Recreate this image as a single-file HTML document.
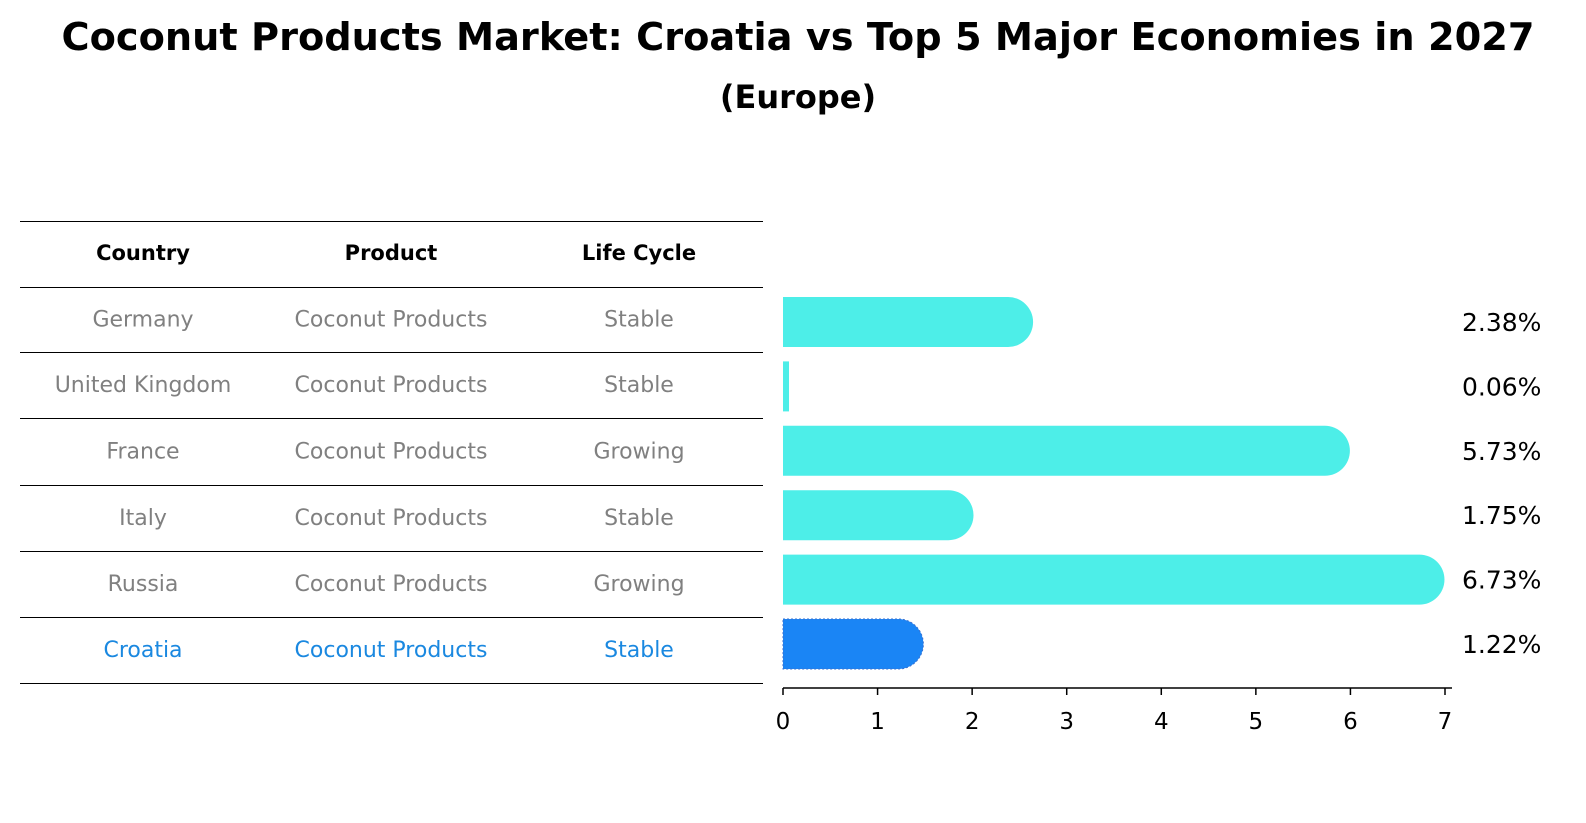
<!DOCTYPE html>
<html><head><meta charset="utf-8"><style>
html,body{margin:0;padding:0;background:#fff;overflow:hidden;width:1586px;height:823px;}
svg{display:block;}
svg text{font-family:"DejaVu Sans","Liberation Sans",sans-serif;}
</style></head><body>
<svg id="c" width="1586" height="823" viewBox="0 0 1586 823" xmlns="http://www.w3.org/2000/svg">
<rect width="1586" height="823" fill="#fff"/>
<text x="798" y="50" text-anchor="middle" font-size="38" font-weight="bold" textLength="1473" lengthAdjust="spacingAndGlyphs">Coconut Products Market: Croatia vs Top 5 Major Economies in 2027</text>
<text x="798" y="108" text-anchor="middle" font-size="32" font-weight="bold">(Europe)</text>
<g id="tbl"></g>
<g id="bars"></g>
</svg>
<script>
const countries=["Germany","United Kingdom","France","Italy","Russia","Croatia"];
const products=["Coconut Products","Coconut Products","Coconut Products","Coconut Products","Coconut Products","Coconut Products"];
const lifeCycles=["Stable","Stable","Growing","Stable","Growing","Stable"];
const values=[2.38,0.06,5.73,1.75,6.73,1.22];
const ticks=[0,1,2,3,4,5,6,7];
const NS="http://www.w3.org/2000/svg";
function mk(t,a,p){const e=document.createElementNS(NS,t);for(const k in a)e.setAttribute(k,a[k]);p.appendChild(e);return e;}
const tbl=document.getElementById('tbl'),bars=document.getElementById('bars');
const lineYs=[221,287,352,418,485,551,617,683];
lineYs.forEach(y=>{const l=mk('line',{x1:20,x2:763,y1:y+0.5,y2:y+0.5,stroke:'#000','stroke-width':1},tbl);

});
const colX=[143,391,639];
["Country","Product","Life Cycle"].forEach((h,i)=>{const t=mk('text',{x:colX[i],y:260,'text-anchor':'middle','font-size':21,'font-weight':'bold'},tbl);t.textContent=h;

});
countries.forEach((c,r)=>{const y=(lineYs[r+1]+lineYs[r+2])/2+7;const col=c==="Croatia"?'#1a88e0':'#808080';
[c,products[r],lifeCycles[r]].forEach((v,i)=>{const t=mk('text',{x:colX[i],y:y,'text-anchor':'middle','font-size':22,fill:col},tbl);t.textContent=v;

});});
const x0=783,xs=(1445-783)/7;
const X=v=>x0+v*xs;
const rowY=i=>322+i*64.4;
const bh=50;
values.forEach((v,i)=>{const cy=rowY(i);const hl=countries[i]==="Croatia";const col=hl?'#1a85f5':'#4deee8';
const g=mk('g',{},bars);


const w=X(v)-x0;
if(v>0.5){mk('path',{d:`M${x0},${cy-bh/2} H${X(v)} A${bh/2},${bh/2} 0 0 1 ${X(v)},${cy+bh/2} H${x0} Z`,fill:col,stroke:hl?'#3a70d0':'none','stroke-dasharray':hl?'2,2':'none'},g);}
else{mk('rect',{x:x0,y:cy-bh/2,width:Math.max(w,6),height:bh,fill:col},g);}
const t=mk('text',{x:1462,y:cy+9,'font-size':25},bars);t.textContent=v.toFixed(2)+'%';

});
const ax=mk('line',{x1:x0,x2:1452,y1:688,y2:688,stroke:'#000','stroke-width':1.5},bars);


ticks.forEach(v=>{const l=mk('line',{x1:X(v),x2:X(v),y1:688,y2:695,stroke:'#000','stroke-width':1.5},bars);


const t=mk('text',{x:X(v),y:729,'text-anchor':'middle','font-size':23},bars);t.textContent=v;

});
</script>
</body></html>
